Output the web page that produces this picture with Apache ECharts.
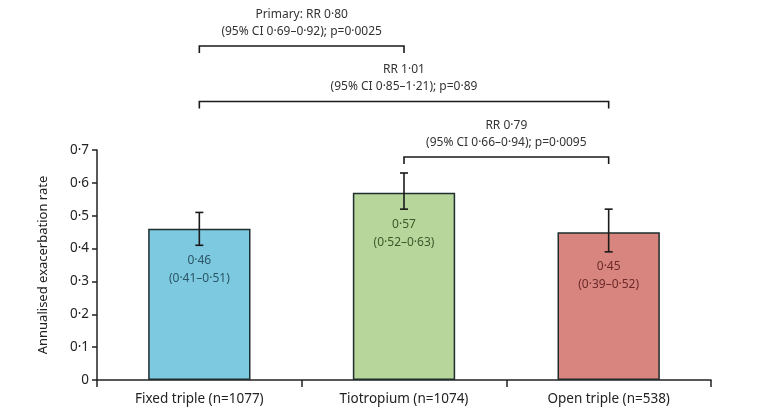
<!DOCTYPE html>
<html>
<head>
<meta charset="utf-8">
<title>Annualised exacerbation rate</title>
<script src="https://cdn.jsdelivr.net/npm/echarts@6/dist/echarts.min.js"></script>
<style>
    html, body { margin: 0; padding: 0; background: #fff; }
    #chart { width: 761px; height: 419px; }
</style>
</head>
<body>
<div id="chart"></div>
<script>
    // data
    var categories = ['Fixed triple (n=1077)', 'Tiotropium (n=1074)', 'Open triple (n=538)'];
    var rates = [0.46, 0.57, 0.45];
    var ciLow = [0.41, 0.52, 0.39];
    var ciHigh = [0.51, 0.63, 0.52];
    var barColors = ['#7dc9df', '#b6d69b', '#d8857f'];
    var textColors = ['#2b5566', '#3b5a2c', '#6a2a2a'];

    // comparisons: from bar, to bar, stacking level, two text lines
    var brackets = [
        [0, 1, 2, 'Primary: RR 0·80', '(95% CI 0·69–0·92); p=0·0025'],
        [0, 2, 1, 'RR 1·01', '(95% CI 0·85–1·21); p=0·89'],
        [1, 2, 0, 'RR 0·79', '(95% CI 0·66–0·94); p=0·0095']
    ];

    function fmt(v) {
        return v.toFixed(2).replace('.', '·');
    }

    var font = '"Noto Sans", sans-serif';
    var ink = '#222';

    var chart = echarts.init(document.getElementById('chart'));

    var barData = rates.map(function (v, i) {
        return { value: v, itemStyle: { color: barColors[i] } };
    });
    var errData = rates.map(function (v, i) {
        return [i, ciLow[i], ciHigh[i], v];
    });

    var option = {
        animation: false,
        grid: { left: 97, right: 50, top: 150, bottom: 39 },
        xAxis: {
            type: 'category',
            data: categories,
            axisLine: { lineStyle: { color: ink, width: 1.5 } },
            axisTick: { show: true, length: 7, lineStyle: { color: ink, width: 1.5 } },
            axisLabel: { color: ink, fontFamily: font, fontSize: 13.5, margin: 12 }
        },
        yAxis: {
            type: 'value',
            min: 0,
            max: 0.7,
            interval: 0.1,
            name: 'Annualised exacerbation rate',
            nameLocation: 'middle',
            nameGap: 47,
            nameTextStyle: { color: ink, fontFamily: font, fontSize: 13 },
            axisLine: { show: true, lineStyle: { color: ink, width: 1.5 } },
            axisTick: { show: true, length: 5, lineStyle: { color: ink, width: 1.5 } },
            axisLabel: {
                color: ink, fontFamily: font, fontSize: 13.5, margin: 8,
                formatter: function (v) { return v === 0 ? '0' : v.toFixed(1).replace('.', '·'); }
            },
            splitLine: { show: false }
        },
        series: [
            {
                type: 'bar',
                data: barData,
                barWidth: '50%',
                itemStyle: { borderColor: '#1e2d2d', borderWidth: 1.5 }
            },
            {
                // error bars and value labels
                type: 'custom',
                data: errData,
                z: 5,
                renderItem: function (params, api) {
                    var i = api.value(0);
                    var lo = api.coord([i, api.value(1)]);
                    var hi = api.coord([i, api.value(2)]);
                    var x = lo[0];
                    var cap = 4;
                    var style = { stroke: '#1a1a1a', lineWidth: 1.6 };
                    return {
                        type: 'group',
                        children: [
                            { type: 'line', shape: { x1: x, y1: lo[1], x2: x, y2: hi[1] }, style: style },
                            { type: 'line', shape: { x1: x - cap, y1: lo[1], x2: x + cap, y2: lo[1] }, style: style },
                            { type: 'line', shape: { x1: x - cap, y1: hi[1], x2: x + cap, y2: hi[1] }, style: style },
                            {
                                type: 'text',
                                style: {
                                    x: x, y: lo[1] + 6,
                                    text: fmt(api.value(3)) + '\n(' + fmt(api.value(1)) + '–' + fmt(api.value(2)) + ')',
                                    align: 'center', verticalAlign: 'top',
                                    fill: textColors[i], font: '12px ' + font, lineHeight: 18
                                }
                            }
                        ]
                    };
                }
            },
            {
                // comparison brackets above the bars
                type: 'custom',
                data: brackets,
                clip: false,
                renderItem: function (params, api) {
                    var b = brackets[params.dataIndex];
                    var p1 = api.coord([b[0], 0]);
                    var p2 = api.coord([b[1], 0]);
                    var y = 157 - b[2] * 55.5;
                    var mid = (p1[0] + p2[0]) / 2;
                    var style = { stroke: '#1a1a1a', lineWidth: 1.6, fill: null };
                    return {
                        type: 'group',
                        children: [
                            {
                                type: 'polyline',
                                shape: { points: [[p1[0], y + 7], [p1[0], y], [p2[0], y], [p2[0], y + 7]] },
                                style: style
                            },
                            {
                                type: 'text',
                                style: {
                                    x: mid, y: y - 6,
                                    text: b[3] + '\n' + b[4],
                                    align: 'center', verticalAlign: 'bottom',
                                    fill: '#333', font: '12px ' + font, lineHeight: 17
                                }
                            }
                        ]
                    };
                }
            }
        ]
    };
    chart.setOption(option);
</script>
</body>
</html>
